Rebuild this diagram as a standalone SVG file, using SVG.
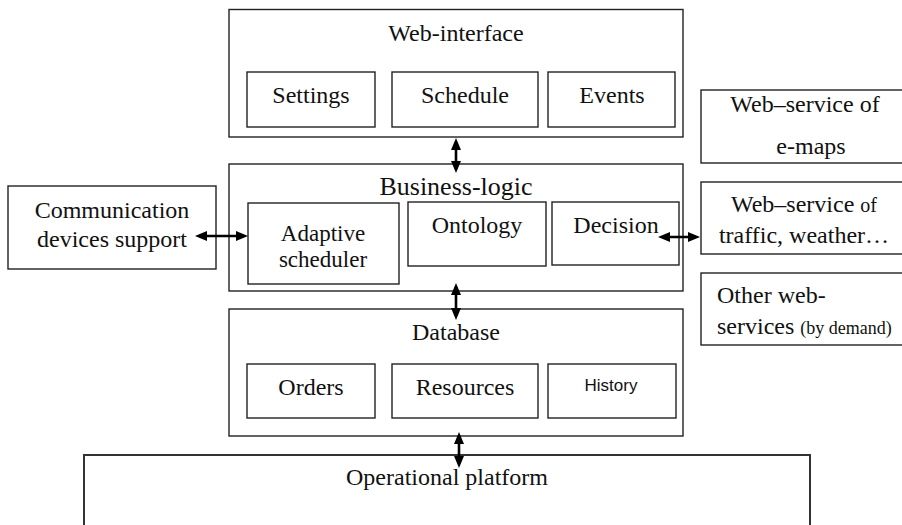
<svg xmlns="http://www.w3.org/2000/svg" width="902" height="525" viewBox="0 0 902 525">
  <defs>
    <style>
      .box { fill: #ffffff; stroke: #222222; stroke-width: 1.4; }
      .t { font-family: 'Liberation Serif', 'Times New Roman', Tinos, 'DejaVu Serif', serif; font-size: 24px; fill: #111111; }
      .c { text-anchor: middle; }
      .sm { font-size: 18px; }
      .sans { font-family: 'Liberation Sans', Arial, sans-serif; font-size: 17px; fill: #111111; text-anchor: middle; }
      .arr { stroke: #000000; stroke-width: 2.6; fill: none; marker-start: url(#head); marker-end: url(#head); }
    </style>
    <marker id="head" viewBox="0 0 12 10" refX="8" refY="5" markerWidth="12" markerHeight="10" markerUnits="userSpaceOnUse" orient="auto-start-reverse">
      <path d="M0,0 L12,5 L0,10 z" fill="#000000"/>
    </marker>
  </defs>
  <rect width="902" height="525" fill="#ffffff"/>

  <g id="web-interface">
    <rect class="box" x="229" y="9.5" width="454" height="127.5"/>
    <text class="t c" x="456" y="41">Web-interface</text>
  </g>
  <g id="settings">
    <rect class="box" x="247" y="72" width="128" height="55"/>
    <text class="t c" x="311" y="103">Settings</text>
  </g>
  <g id="schedule">
    <rect class="box" x="392" y="72" width="146" height="55"/>
    <text class="t c" x="465" y="103">Schedule</text>
  </g>
  <g id="events">
    <rect class="box" x="548" y="72" width="127" height="55"/>
    <text class="t c" x="612" y="103">Events</text>
  </g>

  <g id="business-logic">
    <rect class="box" x="229" y="164" width="454" height="127"/>
    <text class="t c" x="456" y="195" style="font-size:26px">Business-logic</text>
  </g>
  <g id="adaptive-scheduler">
    <rect class="box" x="248" y="203" width="151" height="81"/>
    <text class="t c" x="323" y="241" style="font-size:23px">Adaptive</text>
    <text class="t c" x="323" y="267" style="font-size:23px">scheduler</text>
  </g>
  <g id="ontology">
    <rect class="box" x="408" y="202" width="138" height="64"/>
    <text class="t c" x="477" y="233">Ontology</text>
  </g>
  <g id="decision">
    <rect class="box" x="552" y="202" width="127" height="63"/>
    <text class="t c" x="616" y="233">Decision</text>
  </g>

  <g id="database">
    <rect class="box" x="229" y="309" width="454" height="127"/>
    <text class="t c" x="456" y="340">Database</text>
  </g>
  <g id="orders">
    <rect class="box" x="247" y="364" width="128" height="54"/>
    <text class="t c" x="311" y="395">Orders</text>
  </g>
  <g id="resources">
    <rect class="box" x="392" y="364" width="146" height="54"/>
    <text class="t c" x="465" y="395">Resources</text>
  </g>
  <g id="history">
    <rect class="box" x="548" y="364" width="128" height="54"/>
    <text class="sans" x="611" y="391">History</text>
  </g>

  <g id="operational-platform">
    <path class="box" d="M84,530 V455 H810 V530" style="stroke:#333333;stroke-width:2"/>
    <text class="t c" x="447" y="485">Operational platform</text>
  </g>

  <g id="communication">
    <rect class="box" x="8" y="186" width="208" height="83"/>
    <text class="t c" x="112" y="218">Communication</text>
    <text class="t c" x="112" y="247">devices support</text>
  </g>

  <g id="ws-emaps">
    <rect class="box" x="701" y="90" width="210" height="73"/>
    <text class="t c" x="805" y="112">Web–service of</text>
    <text class="t c" x="811" y="154">e-maps</text>
  </g>
  <g id="ws-traffic">
    <rect class="box" x="701" y="182" width="210" height="72"/>
    <text class="t c" x="804" y="212">Web–service <tspan style="font-size:20px">of</tspan></text>
    <text class="t c" x="804" y="243">traffic, weather…</text>
  </g>
  <g id="ws-other">
    <rect class="box" x="701" y="273" width="210" height="72"/>
    <text class="t" x="717" y="303">Other web-</text>
    <text class="t" x="717" y="334">services <tspan class="sm">(by demand)</tspan></text>
  </g>

  <g id="connectors">
    <line class="arr" x1="456" y1="142" x2="456" y2="169"/>
    <line class="arr" x1="456" y1="287" x2="456" y2="316"/>
    <line class="arr" x1="459" y1="436" x2="459" y2="464"/>
    <line class="arr" x1="199" y1="236" x2="244" y2="236"/>
    <line class="arr" x1="662" y1="237" x2="696" y2="237"/>
  </g>
</svg>
